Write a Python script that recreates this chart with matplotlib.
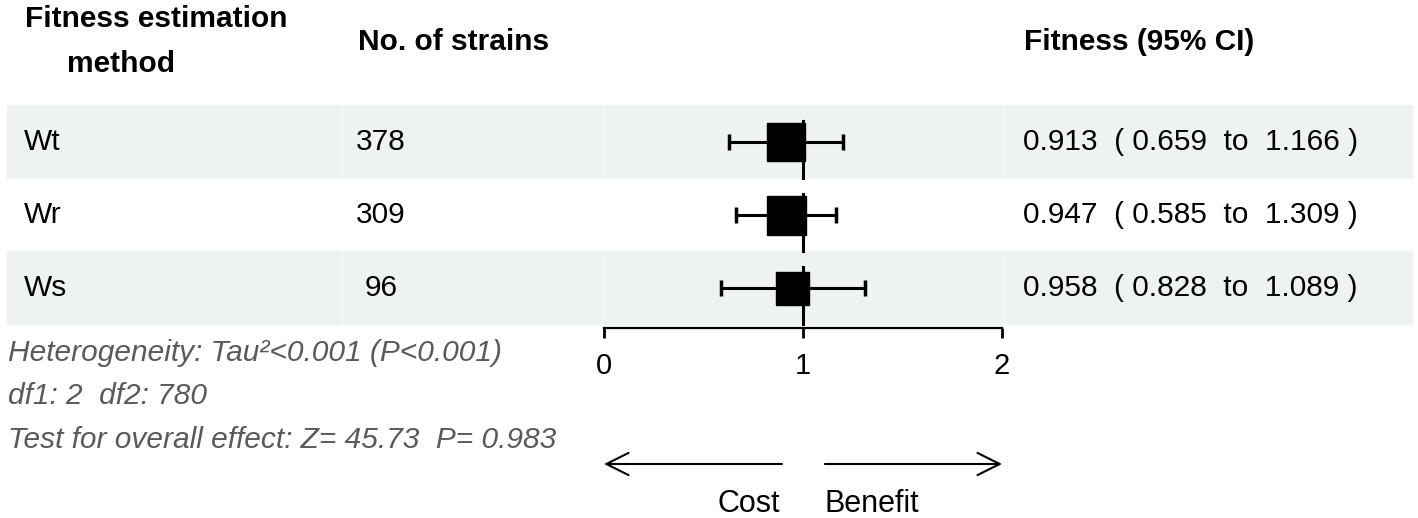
import matplotlib.pyplot as plt
from matplotlib.patches import Rectangle
from matplotlib.transforms import blended_transform_factory

plt.rcParams['font.family'] = ['Liberation Sans', 'DejaVu Sans']

# table data
methods = ["Wt", "Wr", "Ws"]
n_strains = [378, 309, 96]
fit_est = ["0.913", "0.947", "0.958"]
fit_lo = ["0.659", "0.585", "0.828"]
fit_hi = ["1.166", "1.309", "1.089"]

# marks as drawn in the forest plot
est = [0.915, 0.915, 0.947]
lo = [0.628, 0.663, 0.588]
hi = [1.200, 1.166, 1.310]
box_px = [38, 39, 33]   # box side, pixels

notes = ["Heterogeneity: Tau\u00b2<0.001 (P<0.001)",
         "df1: 2  df2: 780",
         "Test for overall effect: Z= 45.73  P= 0.983"]

W, H = 1418, 518
fig = plt.figure(figsize=(W / 100, H / 100), dpi=100)


def fx(px):
    return px / W


def fy(py):
    return 1 - py / H


# forest axis: x=0 at 604px, x=2 at 1002px, rows between 105px and 328px
ax = fig.add_axes([fx(604), fy(328), fx(1002) - fx(604), fy(105) - fy(328)])
ax.set_xlim(0, 2)
ax.set_ylim(2.55, -0.5)
ax.patch.set_alpha(0)
for s in ["top", "left", "right"]:
    ax.spines[s].set_visible(False)
ax.spines["bottom"].set_linewidth(1.6)
ax.set_yticks([])
ax.set_xticks([0, 1, 2])
ax.tick_params(axis="x", length=7, width=2, labelsize=21, pad=10)

rows = list(range(len(methods)))
rowT = blended_transform_factory(fig.transFigure, ax.transData)

# zebra bands with faint cell borders
for i in rows:
    if i % 2 == 0:
        fig.patches.append(Rectangle((fx(7), i - 0.5), fx(1412) - fx(7), 1.0,
                                     transform=rowT, color="#eef2f1", zorder=-1))
        for cx in [342, 603, 1004]:
            fig.lines.append(plt.Line2D([fx(cx), fx(cx)], [i - 0.5, i + 0.5],
                                        transform=rowT, color="#f6f8f7", lw=1,
                                        zorder=-0.5))

# CI bars and boxes
ax.errorbar(est, rows, xerr=[[e - l for e, l in zip(est, lo)],
                             [h - e for e, h in zip(est, hi)]],
            fmt="none", ecolor="black", elinewidth=2.2, capsize=6, capthick=2.5, zorder=2)
for i in rows:
    ax.plot(est[i], i, marker="s", color="black", markersize=box_px[i] * 0.72,
            linestyle="none", zorder=3)
    # line of no effect, one piece per row
    ax.plot([1, 1], [i - 0.28, i + 0.5], color="black", linewidth=2.2, zorder=4)

# table text
hdr = dict(fontsize=21.5, fontweight="bold", va="baseline")
fig.text(fx(25), fy(27), "Fitness estimation", **hdr)
fig.text(fx(67), fy(72), "method", **hdr)
fig.text(fx(358), fy(50), "No. of strains", **hdr)
fig.text(fx(1024), fy(50), "Fitness (95% CI)", **hdr)

for i in rows:
    fig.text(fx(24), i, methods[i], transform=rowT, fontsize=21.5, va="center")
    fig.text(fx(381), i, str(n_strains[i]), transform=rowT, fontsize=21.5,
             va="center", ha="center")
    fig.text(fx(1023), i, f"{fit_est[i]}  ( {fit_lo[i]}  to  {fit_hi[i]} )",
             transform=rowT, fontsize=21.5, va="center")

for py, t in zip([361, 404, 448], notes):
    fig.text(fx(8), fy(py), t, fontsize=21.5, style="italic", color="#5a5a5a",
             va="baseline")

# cost / benefit arrows
botT = blended_transform_factory(ax.transData, fig.transFigure)
arrow = dict(arrowstyle="->,head_length=1.6,head_width=0.8", lw=1.5, color="black",
             shrinkA=0, shrinkB=0, mutation_scale=10)
ax.annotate("", xy=(0, fy(464)), xytext=(0.894, fy(464)), xycoords=botT,
            textcoords=botT, arrowprops=arrow, annotation_clip=False)
ax.annotate("", xy=(2, fy(464)), xytext=(1.11, fy(464)), xycoords=botT,
            textcoords=botT, arrowprops=arrow, annotation_clip=False)
ax.text(0.884, fy(512), "Cost", transform=botT, fontsize=22, ha="right", va="baseline")
ax.text(1.11, fy(512), "Benefit", transform=botT, fontsize=22, ha="left", va="baseline")

fig.savefig("out.png", dpi=100)
